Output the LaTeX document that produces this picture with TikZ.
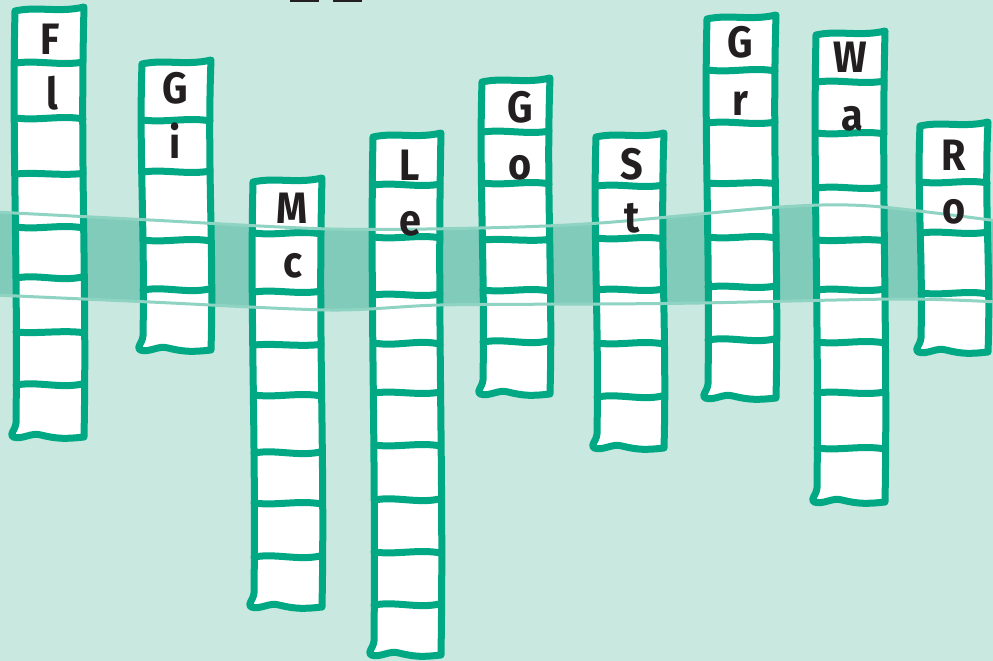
\documentclass[tikz,border=0pt]{standalone}
\usepackage{fontspec}
\newfontfamily\labfont{Fira Sans}[FakeStretch=0.9]
\definecolor{bgc}{HTML}{C9E8DF}
\definecolor{bandc}{HTML}{80CBB9}
\definecolor{bandl}{HTML}{8FD3C3}
\definecolor{stkc}{HTML}{00A884}
\definecolor{txtc}{HTML}{231F20}
\tikzset{
  stk/.style={draw=stkc, fill=white, line width=7pt, line join=round, line cap=round},
  divl/.style={draw=stkc, line width=7pt, line cap=round},
  lab/.style={anchor=base, inner sep=0pt, text=txtc, font=\labfont\bfseries\fontsize{44}{44}\selectfont},
  bandedge/.style={draw=bandl, line width=3pt}
}
% L R T B dividers (y/d)
\newcommand\stackcol[5]{%
  \filldraw[stk] ({#1},{#3+2})
   .. controls ({#1+22},{#3-3}) and ({#2-25},{#3+4}) .. ({#2},{#3-2})
   .. controls ({#2-4},{#3+0.35*(#4-#3)}) and ({#2+3},{#3+0.65*(#4-#3)}) .. ({#2},{#4})
   .. controls ({#2-18},{#4+2}) and ({#1+42},{#4+2}) .. ({#1+26},{#4-2})
   .. controls ({#1+16},{#4-5}) and ({#1+8},{#4+3}) .. ({#1-2},{#4})
   .. controls ({#1-6},{#4-3}) and ({#1},{#4-6}) .. ({#1+1},{#4-14})
   .. controls ({#1+3},{#3+0.6*(#4-#3)}) and ({#1-3},{#3+0.3*(#4-#3)}) .. cycle;
  \foreach \y/\d in {#5}
    \draw[divl] ({#1+1},\y) .. controls ({#1+23},{\y+\d}) and ({#1+46},{\y-\d}) .. ({#2-1},{\y+0.3*\d});
}
\begin{document}
\begin{tikzpicture}[x=1pt,y=-1pt]
\useasboundingbox (0,0) rectangle (993,661);
\fill[bgc] (0,0) rectangle (993,661);
\begin{scope}
\clip (0,0) rectangle (993,661);
% band fill
\fill[bandc] plot[smooth] coordinates {(-5,212) (150,220) (330,229) (480,228) (600,223) (780,207) (870,206) (998,221)}
  -- plot[smooth] coordinates {(998,302) (900,299) (700,303) (600,304) (440,305) (330,310) (150,302) (-5,295)} -- cycle;

% columns
\stackcol{15}{84}{9}{437}{63/-3, 118/3, 174/-2, 227/3, 278/-4, 332/2, 385/-4}
\stackcol{142}{211}{62}{350}{120/3, 172/-3, 240/3, 290/-4}
\stackcol{253}{322}{180}{607}{233/3, 292/-3, 345/-2, 395/3, 453/-4, 503/3, 557/-4}
\stackcol{373}{441}{135}{655}{185/-3, 237/3, 295/-3, 343/4, 393/-3, 445/3, 500/-4, 552/3, 605/-4}
\stackcol{482}{550}{80}{394}{132/-3, 183/3, 240/-2, 290/3, 342/-4}
\stackcol{596}{664}{135}{448}{186/-3, 238/3, 290/-3, 343/3, 397/-4}
\stackcol{707}{776}{17}{398}{70/3, 123/-3, 183/2, 237/3, 287/-3, 340/-4}
\stackcol{816}{885}{33}{502}{82/-3, 133/3, 188/-3, 240/2, 290/-3, 342/3, 393/-3, 448/3}
\stackcol{920}{988}{124}{352}{182/3, 233/-3, 293/3}

% band edge lines
\draw[bandedge] plot[smooth] coordinates {(-5,212) (150,220) (330,229) (480,228) (600,223) (780,207) (870,206) (998,221)};
\draw[bandedge] plot[smooth] coordinates {(998,302) (900,299) (700,303) (600,304) (440,305) (330,310) (150,302) (-5,295)};
\end{scope}

% top marks
\fill[txtc] (290,0) rectangle (319,1.6);
\fill[txtc] (333,0) rectangle (362,1.6);

% letters
\node[lab] (f1) at (50,55) {F};
\node[lab] (f2) at (52,110) {l};
\node[lab] (g1) at (175,103) {G};
\node[lab] (g2) at (175,158) {i};
\node[lab] (m1) at (292,223) {M};
\node[lab] (m2) at (293,277) {c};
\node[lab] (l1) at (410,180) {L};
\node[lab] (l2) at (410,235) {e};
\node[lab] (o1) at (520,122) {G};
\node[lab] (o2) at (520,179) {o};
\node[lab] (s1) at (632,179) {S};
\node[lab] (s2) at (632,232) {t};
\node[lab] (r1) at (740,58) {G};
\node[lab] (r2) at (740,115) {r};
\node[lab] (w1) at (850,73) {W};
\node[lab] (w2) at (852,130) {a};
\node[lab] (q1) at (954,170) {R};
\node[lab] (q2) at (954,223) {o};
\end{tikzpicture}
\end{document}
